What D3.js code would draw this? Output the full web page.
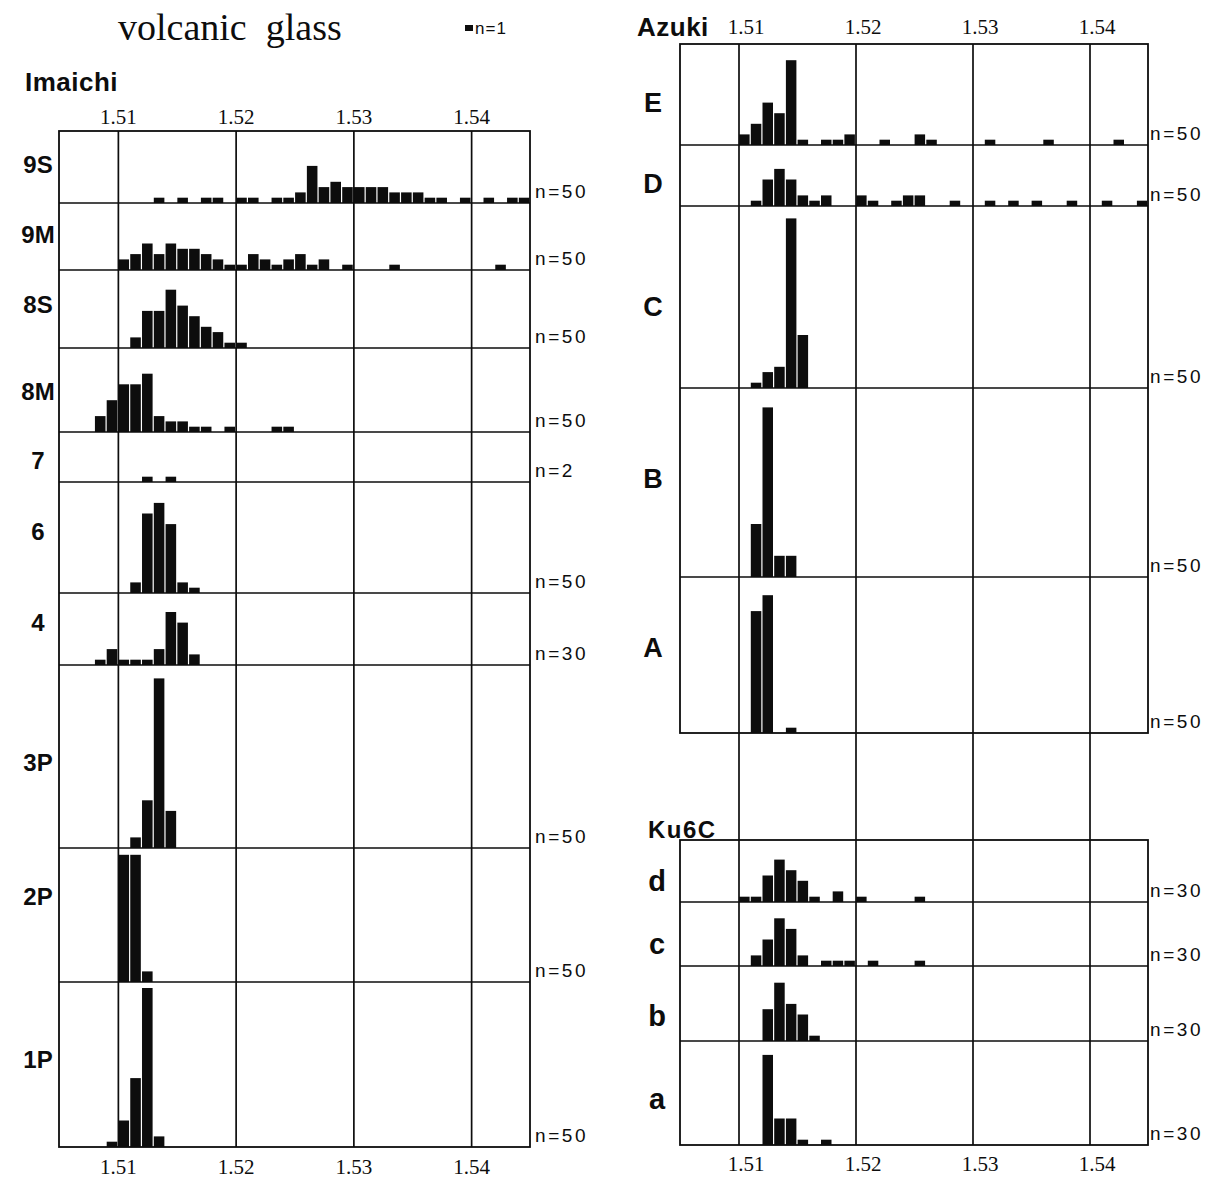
<!DOCTYPE html>
<html>
<head>
<meta charset="utf-8">
<script src="https://cdn.jsdelivr.net/npm/d3@7"></script>
<style>
  html, body { margin: 0; padding: 0; background: #fff; }
  svg { display: block; }
</style>
</head>
<body>
<script>
// ---------------- DATA ----------------
// refractive index bin start (bin width 0.001) and number of glass shards
const tickValues = [1.51, 1.52, 1.53, 1.54];
const xDomain = [1.505, 1.545];
const binWidth = 0.001;

const imaichiLabels = ["9S", "9M", "8S", "8M", "7", "6", "4", "3P", "2P", "1P"];
const imaichiN = [50, 50, 50, 50, 2, 50, 30, 50, 50, 50];
const imaichi9S = [[1.513,1],[1.515,1],[1.517,1],[1.518,1],[1.520,1],[1.521,1],[1.523,1],[1.524,1],[1.525,2],[1.526,7],[1.527,3],[1.528,4],[1.529,3],[1.530,3],[1.531,3],[1.532,3],[1.533,2],[1.534,2],[1.535,2],[1.536,1],[1.537,1],[1.539,1],[1.541,1],[1.543,1],[1.544,1]];
const imaichi9M = [[1.510,2],[1.511,3],[1.512,5],[1.513,3],[1.514,5],[1.515,4],[1.516,4],[1.517,3],[1.518,2],[1.519,1],[1.520,1],[1.521,3],[1.522,2],[1.523,1],[1.524,2],[1.525,3],[1.526,1],[1.527,2],[1.529,1],[1.533,1],[1.542,1]];
const imaichi8S = [[1.511,2],[1.512,7],[1.513,7],[1.514,11],[1.515,8],[1.516,6],[1.517,4],[1.518,3],[1.519,1],[1.520,1]];
const imaichi8M = [[1.508,3],[1.509,6],[1.510,9],[1.511,9],[1.512,11],[1.513,3],[1.514,2],[1.515,2],[1.516,1],[1.517,1],[1.519,1],[1.523,1],[1.524,1]];
const imaichi7 = [[1.512,1],[1.514,1]];
const imaichi6 = [[1.511,2],[1.512,15],[1.513,17],[1.514,13],[1.515,2],[1.516,1]];
const imaichi4 = [[1.508,1],[1.509,3],[1.510,1],[1.511,1],[1.512,1],[1.513,3],[1.514,10],[1.515,8],[1.516,2]];
const imaichi3P = [[1.511,2],[1.512,9],[1.513,32],[1.514,7]];
const imaichi2P = [[1.510,24],[1.511,24],[1.512,2]];
const imaichi1P = [[1.509,1],[1.510,5],[1.511,13],[1.512,30],[1.513,2]];

const azukiLabels = ["E", "D", "C", "B", "A"];
const azukiN = [50, 50, 50, 50, 50];
const azukiE = [[1.510,2],[1.511,4],[1.512,8],[1.513,6],[1.514,16],[1.515,1],[1.517,1],[1.518,1],[1.519,2],[1.522,1],[1.525,2],[1.526,1],[1.531,1],[1.536,1],[1.542,1]];
const azukiD = [[1.511,1],[1.512,5],[1.513,7],[1.514,5],[1.515,2],[1.516,1],[1.517,2],[1.520,2],[1.521,1],[1.523,1],[1.524,2],[1.525,2],[1.528,1],[1.531,1],[1.533,1],[1.535,1],[1.538,1],[1.541,1],[1.544,1]];
const azukiC = [[1.511,1],[1.512,3],[1.513,4],[1.514,32],[1.515,10]];
const azukiB = [[1.511,10],[1.512,32],[1.513,4],[1.514,4]];
const azukiA = [[1.511,23],[1.512,26],[1.514,1]];

const ku6cLabels = ["d", "c", "b", "a"];
const ku6cN = [30, 30, 30, 30];
const ku6c_d = [[1.510,1],[1.511,1],[1.512,5],[1.513,8],[1.514,6],[1.515,4],[1.516,1],[1.518,2],[1.520,1],[1.525,1]];
const ku6c_c = [[1.511,2],[1.512,5],[1.513,9],[1.514,7],[1.515,2],[1.517,1],[1.518,1],[1.519,1],[1.521,1],[1.525,1]];
const ku6c_b = [[1.512,6],[1.513,11],[1.514,7],[1.515,5],[1.516,1]];
const ku6c_a = [[1.512,17],[1.513,5],[1.514,5],[1.515,1],[1.517,1]];

// ---------------- LAYOUT ----------------
const W = 1222, H = 1178;
const pxPerCount = 5.3;
const groups = [
  { title: "Imaichi", titleX: 25, titleY: 91, titleSize: 26, titleSpacing: 0.5, x0: 59, x1: 530, top: 131,
    heights: [72, 67, 78, 84, 50, 111, 72, 183, 134, 165],
    labels: imaichiLabels, ns: imaichiN,
    series: [imaichi9S, imaichi9M, imaichi8S, imaichi8M, imaichi7, imaichi6, imaichi4, imaichi3P, imaichi2P, imaichi1P],
    labelX: 38, labelSize: 24, labelDy: [0,0,-2,4,6,-4,-4,8,-16,-3], nX: 535,
    topAxisY: 124, bottomAxisY: 1175, tickDx: 0 },
  { title: "Azuki", titleX: 637, titleY: 36, titleSize: 26, titleSpacing: 0.5, x0: 680, x1: 1148, top: 44,
    heights: [101, 61, 182, 189, 156],
    labels: azukiLabels, ns: azukiN,
    series: [azukiE, azukiD, azukiC, azukiB, azukiA],
    labelX: 653, labelSize: 27, labelDy: [10,10,12,-2,-5], nX: 1150,
    topAxisY: 34, bottomAxisY: null, tickDx: 7 },
  { title: "Ku6C", titleX: 648, titleY: 838, titleSize: 24, titleSpacing: 1.5, x0: 680, x1: 1148, top: 840,
    heights: [62, 64, 75, 104],
    labels: ku6cLabels, ns: ku6cN,
    series: [ku6c_d, ku6c_c, ku6c_b, ku6c_a],
    labelX: 657, labelSize: 29, labelDy: [12,12,15,8], nX: 1150,
    topAxisY: null, bottomAxisY: 1172, tickDx: 7 }
];

const svg = d3.select("body").append("svg").attr("width", W).attr("height", H);
const ink = "#0d0d0d";
const sansBold = "'Liberation Sans', Arial, Helvetica, sans-serif";
const serif = "'Liberation Serif', 'Times New Roman', serif";

// Title and legend
svg.append("text").attr("x", 118).attr("y", 40)
  .attr("font-family", serif).attr("font-size", 38).attr("fill", ink)
  .style("white-space", "pre").text("volcanic  glass");
svg.append("rect").attr("x", 465).attr("y", 25).attr("width", 8).attr("height", 6).attr("fill", ink);
svg.append("text").attr("x", 475).attr("y", 34)
  .attr("font-family", sansBold).attr("font-size", 17).attr("letter-spacing", 1).attr("fill", ink).text("n=1");

groups.forEach(g => {
  const x = d3.scaleLinear().domain(xDomain).range([g.x0, g.x1]);
  const total = d3.sum(g.heights);
  const bottom = g.top + total;
  const G = svg.append("g");

  // group title
  G.append("text").attr("x", g.titleX).attr("y", g.titleY)
    .attr("font-family", sansBold).attr("font-weight", "bold").attr("font-size", g.titleSize)
    .attr("letter-spacing", g.titleSpacing).attr("fill", ink).text(g.title);

  let y0 = g.top;
  g.series.forEach((data, i) => {
    const h = g.heights[i];
    const y = d3.scaleLinear().domain([0, h / pxPerCount]).range([y0 + h, y0]);
    G.append("g").selectAll("rect").data(data).join("rect")
      .attr("x", d => x(d[0]) + 0.6)
      .attr("width", d => x(d[0] + binWidth) - x(d[0]) - 1.2)
      .attr("y", d => y(d[1]))
      .attr("height", d => y(0) - y(d[1]))
      .attr("fill", ink);
    // row label
    G.append("text").attr("x", g.labelX).attr("y", y0 + h / 2 + g.labelDy[i])
      .attr("text-anchor", "middle").attr("dominant-baseline", "middle")
      .attr("font-family", sansBold).attr("font-weight", "bold").attr("font-size", g.labelSize)
      .attr("fill", ink).text(g.labels[i]);
    // n label
    G.append("text").attr("x", g.nX).attr("y", y0 + h - 5)
      .attr("font-family", sansBold).attr("font-size", 19).attr("letter-spacing", 2.6)
      .attr("fill", ink).text("n=" + g.ns[i]);
    // row divider
    if (i < g.series.length - 1) {
      G.append("line").attr("x1", g.x0).attr("x2", g.x1)
        .attr("y1", y0 + h).attr("y2", y0 + h)
        .attr("stroke", ink).attr("stroke-width", 1.7);
    }
    y0 += h;
  });

  // frame
  G.append("rect").attr("x", g.x0).attr("y", g.top).attr("width", g.x1 - g.x0).attr("height", total)
    .attr("fill", "none").attr("stroke", ink).attr("stroke-width", 1.8);

  // grid lines via axis
  const gridTop = g.title === "Ku6C" ? 733 : g.top;
  const grid = G.append("g").attr("transform", `translate(0,${bottom})`)
    .call(d3.axisTop(x).tickValues(tickValues).tickSize(bottom - gridTop).tickFormat(""));
  grid.select(".domain").remove();
  grid.selectAll("line").attr("stroke", ink).attr("stroke-width", 1.7);

  const styleAxis = sel => {
    sel.select(".domain").remove();
    sel.selectAll("line").remove();
    sel.selectAll("text").attr("font-family", serif).attr("font-size", 21).attr("fill", ink)
      .attr("dx", g.tickDx);
  };
  if (g.topAxisY !== null) {
    G.append("g").attr("transform", `translate(0,${g.topAxisY})`)
      .call(d3.axisTop(x).tickValues(tickValues).tickSize(0).tickPadding(0).tickFormat(d3.format(".2f")))
      .call(styleAxis);
  }
  if (g.bottomAxisY !== null) {
    G.append("g").attr("transform", `translate(0,${g.bottomAxisY - 16})`)
      .call(d3.axisBottom(x).tickValues(tickValues).tickSize(0).tickPadding(0).tickFormat(d3.format(".2f")))
      .call(styleAxis);
  }
});
</script>
</body>
</html>
